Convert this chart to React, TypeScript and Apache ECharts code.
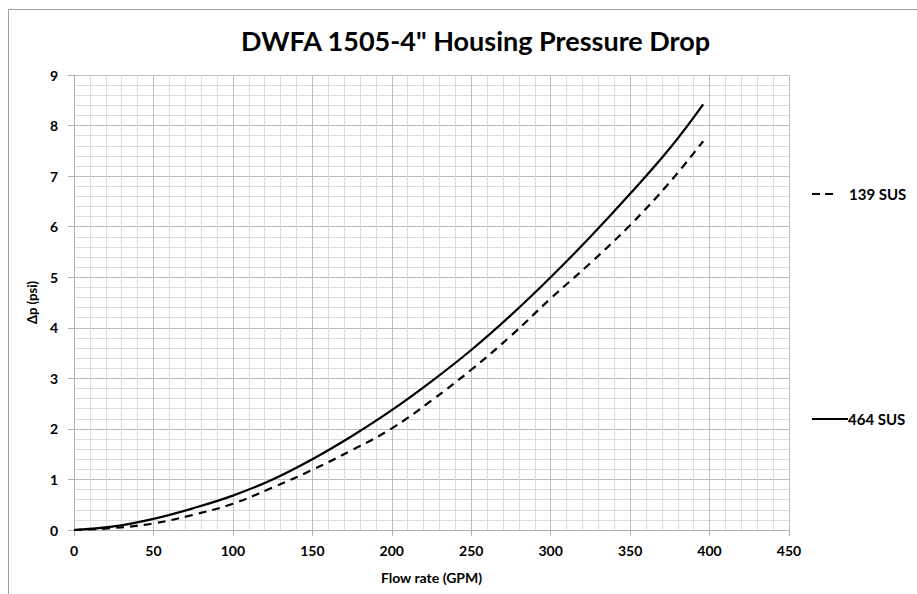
import React, { useEffect, useRef } from "react";
import * as echarts from "echarts";

const flowRate = [0, 25, 50, 75, 100, 125, 150, 175, 200, 225, 250, 275, 300, 325, 350, 375, 396];
const sus464 = [0, 0.07, 0.22, 0.43, 0.68, 1.0, 1.4, 1.86, 2.37, 2.94, 3.56, 4.25, 5.0, 5.8, 6.65, 7.55, 8.42];
const sus139 = [0, 0.04, 0.13, 0.3, 0.52, 0.84, 1.19, 1.58, 2.01, 2.56, 3.17, 3.84, 4.58, 5.28, 6.03, 6.88, 7.69];
const seriesNames = ["139 SUS", "464 SUS"];
const titleText = 'DWFA 1505-4" Housing Pressure Drop';
const xAxisName = "Flow rate (GPM)";
const yAxisName = "Δp (psi)";

const FONT = "Lato, 'Open Sans', sans-serif";

export default function App() {
  const ref = useRef<HTMLDivElement>(null);
  useEffect(() => {
    if (!ref.current) return;
    const chart = echarts.init(ref.current, undefined, { renderer: "svg" });
    const pair = (ys: number[]) => flowRate.map((x, i) => [x, ys[i]]);
    const legendText = { fontFamily: FONT, fontSize: 15, fontWeight: "bold", fill: "#000" };
    chart.setOption({
      animation: false,
      backgroundColor: "#fff",
      textStyle: { fontFamily: FONT, color: "#000" },
      title: {
        text: titleText,
        left: 236,
        top: 22,
        textStyle: { fontFamily: FONT, fontSize: 27, fontWeight: "bold", color: "#000" },
      },
      graphic: [
        {
          type: "rect",
          shape: { x: 8.5, y: 9.5, width: 1000, height: 1000 },
          style: { fill: "none", stroke: "#a0a0a0", lineWidth: 1 },
          silent: true,
        },
        {
          type: "line",
          shape: { x1: 812, y1: 194, x2: 838, y2: 194 },
          style: { stroke: "#000", lineWidth: 2.2, lineDash: [8, 5] },
        },
        {
          type: "text",
          x: 849,
          y: 194,
          style: { ...legendText, text: seriesNames[0], verticalAlign: "middle", align: "left" },
        },
        {
          type: "line",
          shape: { x1: 812, y1: 419, x2: 848, y2: 419 },
          style: { stroke: "#000", lineWidth: 2.2 },
        },
        {
          type: "text",
          x: 848,
          y: 419,
          style: { ...legendText, text: seriesNames[1], verticalAlign: "middle", align: "left" },
        },
      ],
      grid: { left: 74, right: 128, top: 75, bottom: 64, containLabel: false },
      xAxis: {
        type: "value",
        min: 0,
        max: 450,
        interval: 50,
        name: xAxisName,
        nameLocation: "middle",
        nameGap: 40,
        nameTextStyle: { fontFamily: FONT, fontSize: 14, fontWeight: "bold", color: "#000" },
        axisLine: { show: true, onZero: false, lineStyle: { color: "#b0b0b0", width: 1 } },
        axisTick: { show: true, length: 6, lineStyle: { color: "#b0b0b0" } },
        axisLabel: { margin: 13, fontFamily: FONT, fontSize: 14, fontWeight: "bold", color: "#000" },
        splitLine: { show: true, lineStyle: { color: "#bdbdbd", width: 1 } },
        minorTick: { show: false, splitNumber: 5 },
        minorSplitLine: { show: true, lineStyle: { color: "#dcdcdc", width: 1 } },
      },
      yAxis: {
        type: "value",
        min: 0,
        max: 9,
        interval: 1,
        name: yAxisName,
        nameLocation: "middle",
        nameGap: 36,
        nameRotate: 90,
        nameTextStyle: { fontFamily: FONT, fontSize: 13, fontWeight: "bold", color: "#000" },
        axisLine: { show: true, lineStyle: { color: "#b0b0b0", width: 1 } },
        axisTick: { show: true, length: 6, lineStyle: { color: "#b0b0b0" } },
        axisLabel: { margin: 16, fontFamily: FONT, fontSize: 14, fontWeight: "bold", color: "#000" },
        splitLine: { show: true, lineStyle: { color: "#bdbdbd", width: 1 } },
        minorTick: { show: false, splitNumber: 5 },
        minorSplitLine: { show: true, lineStyle: { color: "#dcdcdc", width: 1 } },
      },
      series: [
        {
          name: seriesNames[0],
          type: "line",
          data: pair(sus139),
          smooth: 0.4,
          symbol: "none",
          color: "#000",
          lineStyle: { color: "#000", width: 2.2, type: [8, 6] },
        },
        {
          name: seriesNames[1],
          type: "line",
          data: pair(sus464),
          smooth: 0.4,
          symbol: "none",
          color: "#000",
          lineStyle: { color: "#000", width: 2.2, type: "solid" },
        },
      ],
    });
    return () => chart.dispose();
  }, []);
  return (
    <div
      ref={ref}
      style={{ position: "fixed", left: 0, top: 0, width: 917, height: 594 }}
    />
  );
}
